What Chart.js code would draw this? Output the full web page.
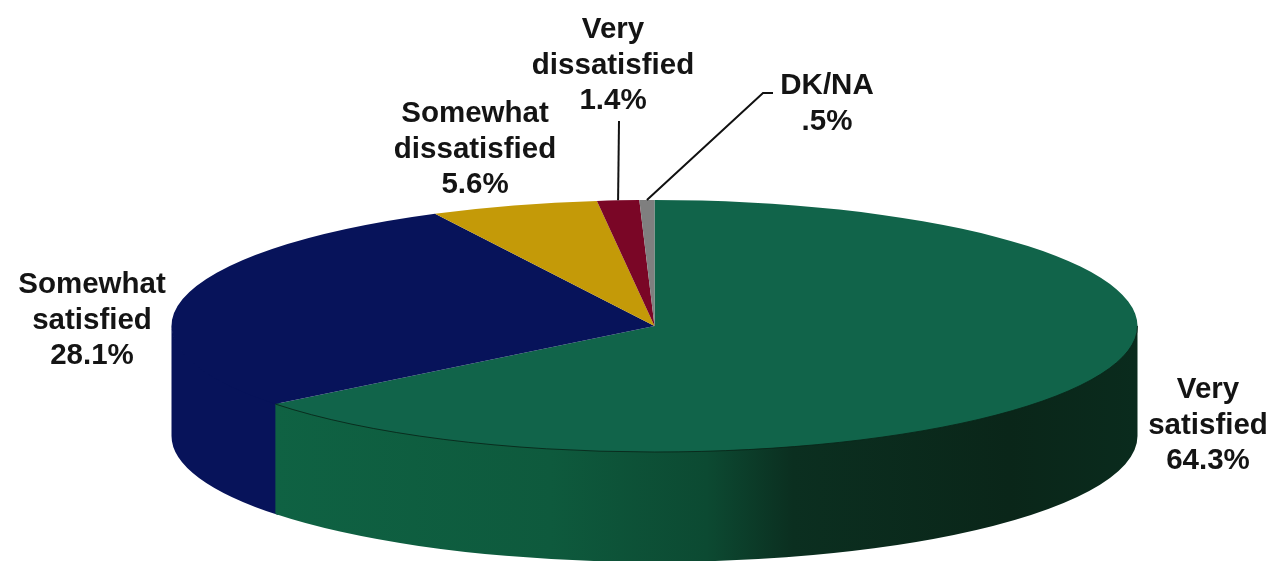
<!DOCTYPE html>
<html>
<head>
<meta charset="utf-8">
<title>Satisfaction pie</title>
<script src="https://cdn.jsdelivr.net/npm/chart.js@4"></script>
<style>
  html, body { margin:0; padding:0; background:#fff; }
  canvas { display:block; }
</style>
</head>
<body>
<canvas id="pie" width="1273" height="561"></canvas>
<script>
/* ---------- data, clockwise from 12 o'clock ---------- */
const categories  = [['Very','satisfied'], ['Somewhat','satisfied'], ['Somewhat','dissatisfied'], ['Very','dissatisfied'], ['DK/NA']];
const values      = [64.3, 28.1, 5.6, 1.4, 0.5];
const valueLabels = ['64.3%', '28.1%', '5.6%', '1.4%', '.5%'];

/* ---------- look ---------- */
const topColors  = ['#11644a', '#07135a', '#c49a08', '#7a0626', '#7f7f7f'];
const sideColors = [
  [[0,'#0f6243'], [0.32,'#0e5a3d'], [0.5,'#0c4a32'], [0.6,'#0b2f20'], [0.85,'#0a2619'], [1,'#0a2b1d']],
  [[0,'#07135a'], [1,'#07135a']],
  [[0,'#9a7806'], [1,'#9a7806']],
  [[0,'#5c041c'], [1,'#5c041c']],
  [[0,'#5f5f5f'], [1,'#5f5f5f']]
];
const PIE   = { cx:654.5, cy:326, rx:483, ry:126, depth:110 };
const FONT  = 'bold 29.5px "Liberation Sans", Arial, sans-serif';
const LINE_H = 35.5;
/* label centre x, first line centre y, optional elbow for the leader */
const labelPos = [
  { x:1208, y:390 },
  { x:92,   y:285 },
  { x:475,  y:114 },
  { x:613,  y:30, leader:[[619,121]] },
  { x:827,  y:86, leader:[[763,93],[773,93]] }
];

/* ---------- squashes the library's pie into the tilted disc ---------- */
const tiltPlugin = {
  id:'tilt',
  beforeDatasetsDraw(chart){
    const ctx = chart.ctx;
    const arcs = chart.getDatasetMeta(0).data;

    // side wall, only the part of each slice facing the viewer (0..PI)
    // reverse order + small overlap so no light seam shows between walls
    for (let i = arcs.length-1; i >= 0; i--){
      const arc = arcs[i];
      const a = Math.max(arc.startAngle-0.01, 0);
      const b = Math.min(arc.endAngle, Math.PI);
      if (b <= a) continue;
      const g = ctx.createLinearGradient(275,0,1138,0);
      sideColors[i].forEach(s=>g.addColorStop(s[0],s[1]));
      ctx.beginPath();
      ctx.ellipse(PIE.cx,PIE.cy-2,PIE.rx,PIE.ry,0,a,b);   // 2px under the top face
      ctx.ellipse(PIE.cx,PIE.cy+PIE.depth,PIE.rx,PIE.ry,0,b,a,true);
      ctx.closePath();
      ctx.fillStyle = g;
      ctx.fill();
    }

    const r = arcs[0].outerRadius;
    ctx.save();
    ctx.translate(PIE.cx,PIE.cy);
    ctx.scale(PIE.rx/r,PIE.ry/r);
    ctx.translate(-arcs[0].x,-arcs[0].y);
  },
  afterDatasetsDraw(chart){
    const ctx = chart.ctx;
    ctx.restore();
    const arcs = chart.getDatasetMeta(0).data;

    // thin dark rim where the green top meets its wall
    ctx.beginPath();
    ctx.ellipse(PIE.cx,PIE.cy,PIE.rx,PIE.ry,0,Math.max(arcs[0].startAngle,0),Math.min(arcs[0].endAngle,Math.PI));
    ctx.strokeStyle = 'rgba(8,36,24,0.85)';
    ctx.lineWidth = 1;
    ctx.stroke();

    // leaders
    ctx.strokeStyle = '#111';
    ctx.lineWidth = 2;
    arcs.forEach((arc,i)=>{
      const pos = labelPos[i];
      if (!pos.leader) return;
      const mid = (arc.startAngle+arc.endAngle)/2;
      ctx.beginPath();
      ctx.moveTo(PIE.cx+PIE.rx*Math.cos(mid), PIE.cy+PIE.ry*Math.sin(mid));
      pos.leader.forEach(p=>ctx.lineTo(p[0],p[1]));
      ctx.stroke();
    });

    // labels
    ctx.font = FONT;
    ctx.fillStyle = '#141414';
    ctx.textAlign = 'center';
    ctx.textBaseline = 'middle';
    categories.forEach((lines,i)=>{
      lines.concat(valueLabels[i]).forEach((t,n)=>{
        ctx.fillText(t, labelPos[i].x, labelPos[i].y + n*LINE_H);
      });
    });
  }
};

new Chart(document.getElementById('pie'),{
  type:'pie',
  data:{
    labels: categories.map(c=>c.join(' ')),
    datasets:[{ data:values, backgroundColor:topColors, borderWidth:0, clip:false }]
  },
  options:{
    responsive:false,
    animation:false,
    plugins:{ legend:{display:false}, tooltip:{enabled:false} }
  },
  plugins:[tiltPlugin]
});
</script>
</body>
</html>
